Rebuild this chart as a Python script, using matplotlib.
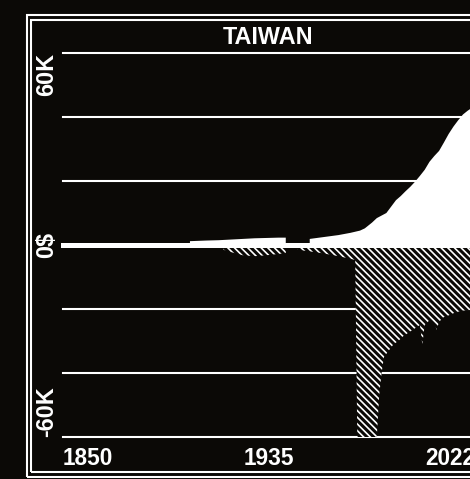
import numpy as np
import matplotlib.pyplot as plt
from matplotlib.patches import Rectangle
from matplotlib import transforms

BG = '#0b0906'
FG = 'white'

title = "TAIWAN"
x_labels = ["1850", "1935", "2022"]
y_labels = ["60K", "0$", "-60K"]
grid_values = [-60, -40, -20, 0, 20, 40, 60]

# upper series (thousands), gap during the 1940s
pos_years = [1903, 1910, 1915, 1920, 1925, 1930, 1935, 1940, 1943, 1944,
             1953, 1955, 1960, 1965, 1970, 1974, 1976, 1977, 1979, 1981,
             1983, 1985, 1987, 1989, 1991, 1993, 1995, 1997, 1999, 2001,
             2003, 2005, 2007, 2009, 2011, 2013, 2015, 2017, 2019, 2020,
             2021, 2022]
pos_values = [1.2, 1.4, 1.5, 1.7, 1.9, 2.1, 2.2, 2.3, 2.3, np.nan,
              1.9, 2.1, 2.6, 3.1, 3.8, 4.5, 5.2, 5.8, 7.0, 8.4,
              9.2, 10.0, 12.0, 14.0, 15.3, 16.8, 18.2, 19.8, 21.6, 23.5,
              26.0, 27.8, 29.4, 32.0, 34.7, 37.0, 39.0, 40.8, 42.0, 42.5,
              44.5, 45.5]

# lower series (thousands)
neg_years = [1917, 1920, 1925, 1930, 1935, 1940, 1943, 1945,
             1948, 1955, 1960, 1965, 1970, 1972, 1973, 1980, 1981, 1982,
             1983, 1984, 1986, 1988, 1990, 1992, 1994, 1996, 1998, 1999,
             2000, 2001, 2003, 2005, 2006, 2007, 2009, 2011, 2014, 2017,
             2020, 2022]
neg_values = [-1.5, -2.2, -3.2, -3.5, -3.2, -2.8, -2.5, np.nan,
              -1.5, -2.2, -2.8, -3.5, -4.3, -4.7, -70, -70, -60, -47,
              -40, -35, -33, -31, -30, -28.5, -27.5, -26.5, -25.5, -25,
              -31, -25, -23.5, -24.5, -26.5, -24, -22.5, -22, -21, -20.5,
              -20.3, -20]

plt.rcParams['font.family'] = ['Liberation Sans', 'DejaVu Sans']
plt.rcParams['font.weight'] = 'bold'
plt.rcParams['hatch.linewidth'] = 1.2
plt.rcParams['hatch.color'] = FG

W, H = 470, 479
fig = plt.figure(figsize=(W / 100, H / 100), dpi=100, facecolor=BG)
ax = fig.add_axes([63 / W, 1 - 437 / H, 412 / W, 384 / H])
ax.set_facecolor(BG)
ax.set_xlim(1850, 2022)
ax.set_ylim(-60, 60)
for s in ax.spines.values():
    s.set_visible(False)
ax.set_xticks([])
ax.set_yticks([])

for g in grid_values:
    if g == 0:
        ax.axhline(g, color=FG, lw=3.6, zorder=4, clip_on=False)
    else:
        ax.axhline(g, color=FG, lw=1.5, zorder=1, clip_on=False)

ax.fill_between(pos_years, 0, pos_values, color=FG, lw=0, zorder=2)
ax.fill_between(neg_years, 0, neg_values, facecolor=BG, edgecolor=FG,
                hatch='\\' * 5, lw=0, zorder=3)

# axis labels
tx = transforms.blended_transform_factory(ax.transData, ax.transAxes)
x0, x1 = ax.get_xlim()
for lab, xp, ha in zip(x_labels, [x0, (x0 + x1) / 2, x1], ['left', 'center', 'right']):
    ax.text(xp, -0.073, lab, transform=tx, ha=ha, va='baseline',
            color=FG, fontsize=16.3, fontweight='bold')

ty = transforms.blended_transform_factory(ax.transAxes, ax.transData)
for lab, yp, va in zip(y_labels, [60, 0, -60], ['top', 'center', 'bottom']):
    ax.text(-0.039, yp, lab, transform=ty, ha='center', va=va, rotation=90,
            color=FG, fontsize=16.8, fontweight='bold')

fig.text(268 / W, 1 - 44 / H, title, ha='center', va='baseline',
         color=FG, fontsize=16.8, fontweight='bold')

# double frame
fig.patches.append(Rectangle((27 / W, 1 - 477 / H), 1.2, (477 - 15) / H,
                             transform=fig.transFigure, fill=False, ec=FG, lw=1.5))
fig.patches.append(Rectangle((31 / W, 1 - 471.5 / H), 1.2, (471.5 - 20) / H,
                             transform=fig.transFigure, fill=False, ec=FG, lw=1.5))

fig.savefig('out.png', dpi=100, facecolor=BG)
